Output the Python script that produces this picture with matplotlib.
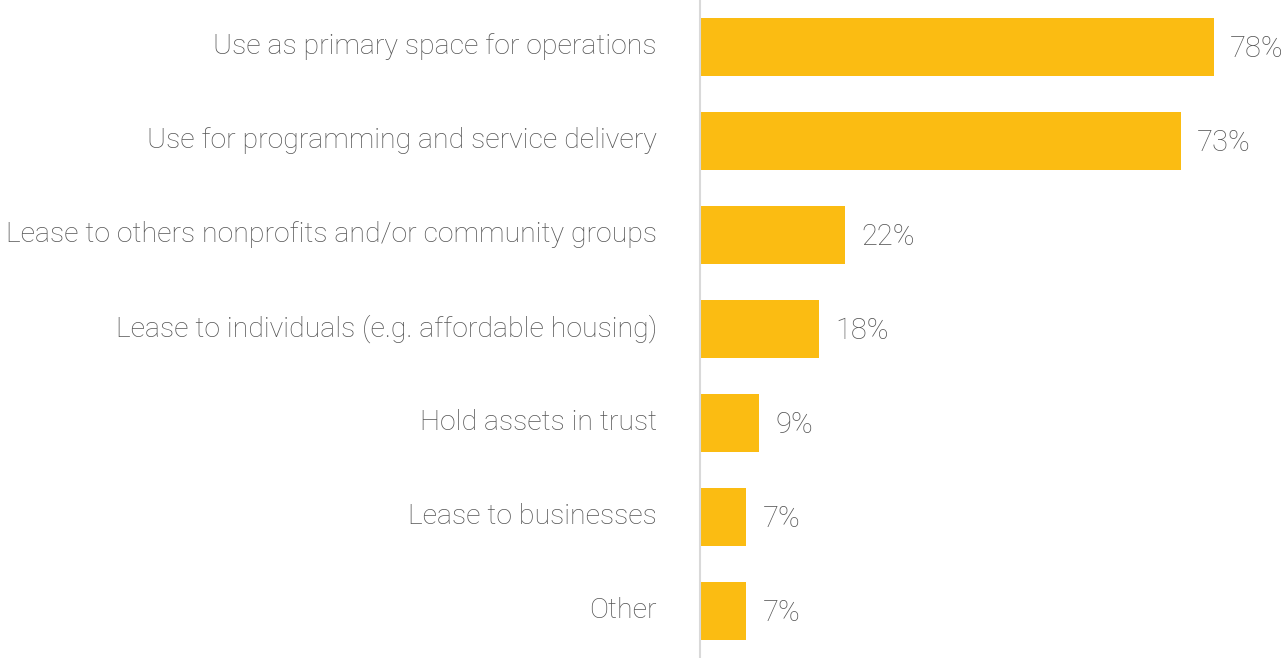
import matplotlib
matplotlib.use("Agg")
import matplotlib.pyplot as plt

categories = [
    "Use as primary space for operations",
    "Use for programming and service delivery",
    "Lease to others nonprofits and/or community groups",
    "Lease to individuals (e.g. affordable housing)",
    "Hold assets in trust",
    "Lease to businesses",
    "Other",
]
values = [78, 73, 22, 18, 9, 7, 7]

plt.rcParams['font.family'] = ['Roboto', 'DejaVu Sans']

fig = plt.figure(figsize=(12.86, 6.58), dpi=100)
ax = fig.add_axes([700 / 1286, 0, 586 / 1286, 1])

pos = list(range(len(categories)))
ax.barh(pos, values, height=0.61, color="#FBBC12")
for p, v in zip(pos, values):
    ax.text(v + 2.5, p + 0.02, f"{v}%", va="center", ha="left", fontsize=21,
            color="#555555", fontweight="light")

ax.set_xlim(0, 89)
ax.set_ylim(len(categories) - 0.5, -0.5)
ax.set_yticks(pos)
ax.set_yticklabels(categories, fontsize=20.5, color="#555555", fontweight="light",
                   va="center")
ax.tick_params(axis="y", length=0, pad=31)
ax.set_xticks([])
for s in ["top", "right", "bottom"]:
    ax.spines[s].set_visible(False)
ax.spines["left"].set_color("#D9D9D9")
ax.spines["left"].set_linewidth(1.5)

fig.savefig("out.png", dpi=100)
